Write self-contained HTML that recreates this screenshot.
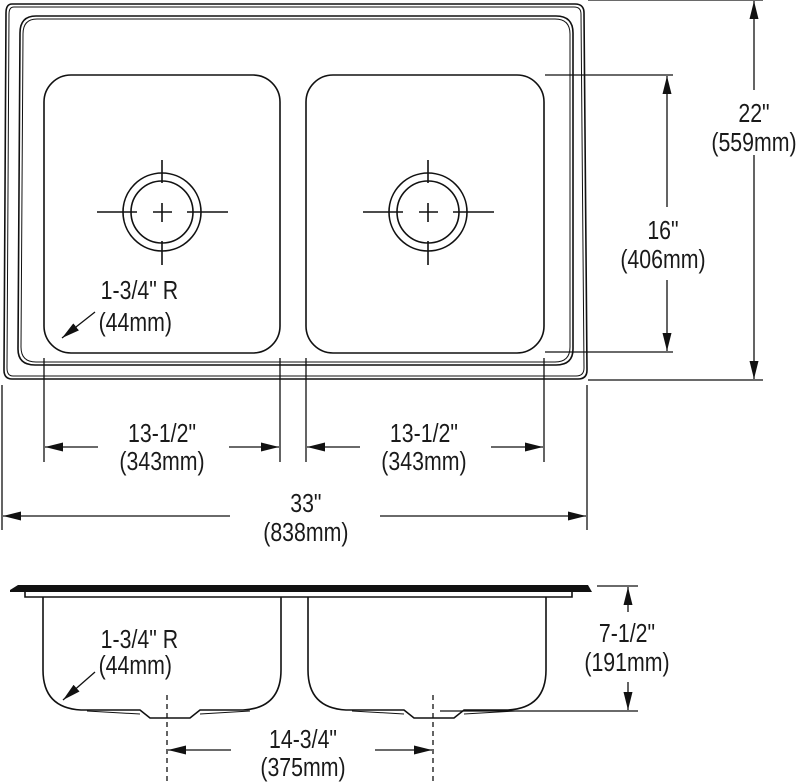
<!DOCTYPE html>
<html><head><style>
body{margin:0;background:#fff}
svg{display:block}
text{font-family:"Liberation Sans",sans-serif;font-size:26px;fill:#1a1a1a;text-anchor:middle}
</style></head><body>
<svg width="800" height="783" viewBox="0 0 800 783">
<defs>
<marker id="a" viewBox="0 0 20 10" refX="20" refY="5" markerWidth="18" markerHeight="9" markerUnits="userSpaceOnUse" orient="auto"><path d="M0,0L20,5L0,10z" fill="#111"/></marker>
</defs>
<g fill="none" stroke="#111" stroke-width="1.6">
<path d="M12,4 L575,4 Q584,4 584,13 L587,370 Q587,379 578,379 L12,379 Q4,379 4,370 L6,13 Q6,4 12,4Z"/>
<path d="M14,7 L574,7 Q581,7 581,14 L584,368 Q584,376 576,376 L13,376 Q7,376 7,368 L9,14 Q9,7 14,7Z" stroke-width="1"/>
<path d="M36,16 L556,16 Q573,16 573,33 L573,349 Q573,365 556,365 L35,365 Q18,365 18,349 L20,33 Q20,16 36,16Z"/>
<path d="M37,19 L555,19 Q570,19 570,34 L570,347 Q570,362 555,362 L36,362 Q21,362 21,347 L23,34 Q23,19 37,19Z" stroke-width="1"/>
<rect x="44" y="75" width="236" height="278" rx="27"/>
<rect x="306" y="75" width="238" height="278" rx="27"/>
<circle cx="162" cy="212" r="39"/><circle cx="162" cy="212" r="31"/>
<path d="M97,212H137M187,212H228M153,212H172M162,203V222M162,160V183M162,241V265"/>
<circle cx="428" cy="212" r="39"/><circle cx="428" cy="212" r="31"/>
<path d="M363,212H403M453,212H494M419,212H438M428,203V222M428,160V183M428,241V265"/>
</g>
<g fill="none" stroke="#111" stroke-width="1.3">
<path d="M588,0H763M588,380H763M545,75H673M545,352H673"/>
<path d="M44,358V462M280,358V462M306,358V462M544,358V462M2,385V530M587,385V530"/>
</g>
<g fill="none" stroke="#111" stroke-width="1.3" marker-end="url(#a)">
<line x1="754" y1="90" x2="754" y2="1"/>
<line x1="754" y1="155" x2="754" y2="379"/>
<line x1="667" y1="207" x2="667" y2="76"/>
<line x1="667" y1="280" x2="667" y2="351"/>
<line x1="98" y1="447" x2="45" y2="447"/>
<line x1="229" y1="447" x2="279" y2="447"/>
<line x1="360" y1="447" x2="307" y2="447"/>
<line x1="491" y1="447" x2="543" y2="447"/>
<line x1="230" y1="516" x2="3" y2="516"/>
<line x1="380" y1="516" x2="586" y2="516"/>
<line x1="95" y1="312" x2="62" y2="338"/>
<line x1="628" y1="612" x2="628" y2="587"/>
<line x1="628" y1="682" x2="628" y2="710"/>
<line x1="231" y1="750" x2="168" y2="750"/>
<line x1="375" y1="750" x2="432" y2="750"/>
<line x1="95" y1="672" x2="63" y2="700"/>
</g>
<path d="M10,590L18,585H588L592,592L10,592Z" fill="#111"/>
<g fill="none" stroke="#111" stroke-width="1.6">
<path d="M25,592V597H572V592"/>
<path d="M43,597V670Q43,708 81,710L140,710L150,718H190L200,710L243,710Q281,708 281,670V597"/>
<path d="M308,597V670Q308,708 346,710L404,710L414,718H454L464,710L508,710Q546,708 546,670V597"/>
<path d="M87,711L140,714M200,714L250,711M352,711L404,714M464,714L515,711" stroke-width="1"/>
</g>
<g fill="none" stroke="#111" stroke-width="1.3">
<path d="M167,695V783M433,695V783" stroke-dasharray="5,4"/>
<path d="M597,586H638M440,711H638"/>
</g>
<g transform="scale(0.82 1)">
<text x="919.5" y="122">22"</text><text x="919.5" y="151">(559mm)</text>
<text x="808.5" y="239">16"</text><text x="808.5" y="268">(406mm)</text>
<text x="197.6" y="442">13-1/2"</text><text x="197.6" y="470">(343mm)</text>
<text x="517" y="442">13-1/2"</text><text x="517" y="470">(343mm)</text>
<text x="373" y="512">33"</text><text x="373" y="541">(838mm)</text>
<text x="170" y="299">1-3/4" R</text><text x="165" y="331">(44mm)</text>
<text x="170" y="648">1-3/4" R</text><text x="165" y="674">(44mm)</text>
<text x="764.6" y="642">7-1/2"</text><text x="764.6" y="671">(191mm)</text>
<text x="369.5" y="748">14-3/4"</text><text x="369.5" y="776">(375mm)</text>
</g>
</svg>
</body></html>
